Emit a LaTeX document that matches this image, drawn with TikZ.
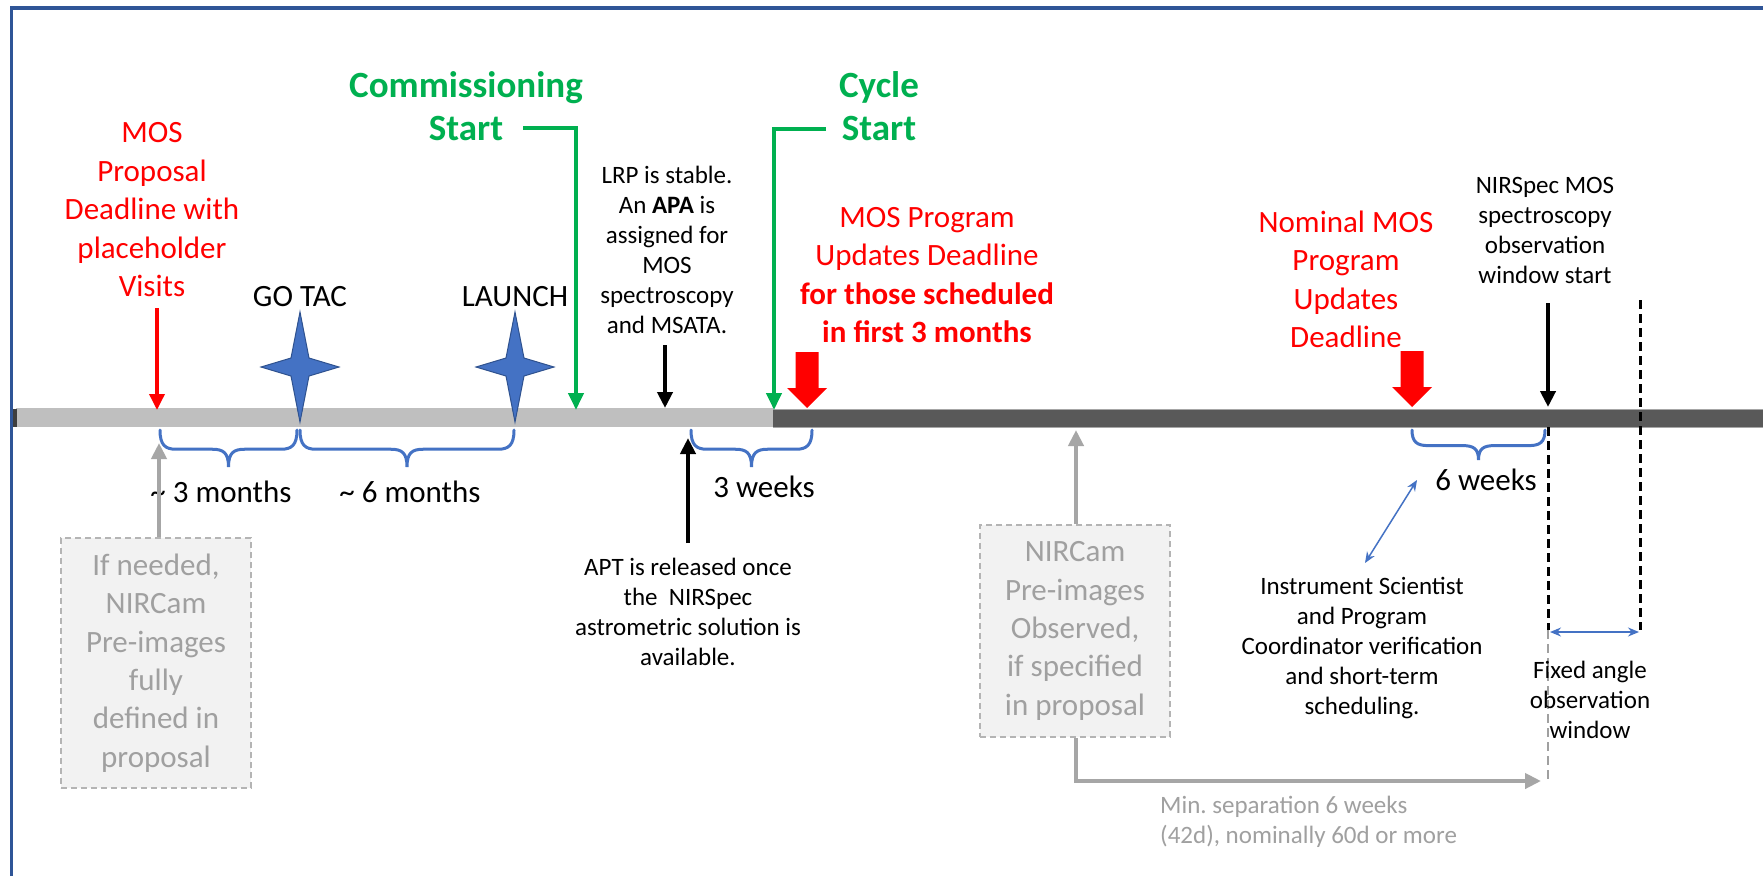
\documentclass[tikz,border=0pt]{standalone}
\usepackage{fontspec}
\setmainfont{Carlito}
\usetikzlibrary{arrows.meta}

\definecolor{frameblue}{HTML}{2F5597}
\definecolor{mred}{HTML}{FF0000}
\definecolor{mgreen}{HTML}{00B050}
\definecolor{mblue}{HTML}{4472C4}
\definecolor{starline}{HTML}{2F528F}
\definecolor{barlight}{HTML}{BFBFBF}
\definecolor{bardark}{HTML}{595959}
\definecolor{barrim}{HTML}{A6A6A6}
\definecolor{txtgray}{HTML}{A0A0A0}
\definecolor{boxfill}{HTML}{F2F2F2}
\definecolor{boxline}{HTML}{B4B4B4}

% curly brace hanging below the time line: #1,#2 = ends, #3 = top, #4 = depth
\newcommand\tlbrace[4]{%
  \draw[bracestyle] (#1,#3) .. controls (#1,#3+0.4*#4) and (#1+5,#3+0.52*#4) .. (#1+16,#3+0.52*#4)
    -- ({(#1+#2)/2-16},#3+0.52*#4) .. controls ({(#1+#2)/2-5},#3+0.52*#4) and ({(#1+#2)/2},#3+0.62*#4) .. ({(#1+#2)/2},#3+#4)
    .. controls ({(#1+#2)/2},#3+0.62*#4) and ({(#1+#2)/2+5},#3+0.52*#4) .. ({(#1+#2)/2+16},#3+0.52*#4)
    -- (#2-16,#3+0.52*#4) .. controls (#2-5,#3+0.52*#4) and (#2,#3+0.4*#4) .. (#2,#3);}

% four-pointed milestone star centred at (#1,#2)
\newcommand\fourstar[2]{%
  \filldraw[starstyle] (#1,#2-55) -- (#1+9,#2-9) -- (#1+39,#2) -- (#1+9,#2+9)
    -- (#1,#2+55) -- (#1-9,#2+9) -- (#1-39,#2) -- (#1-9,#2-9) -- cycle;}

% thick block arrow pointing down, tip at (#1,#2)
\newcommand\blockarrow[2]{%
  \fill[mred] (#1-11.5,#2-56) -- (#1+11.5,#2-56) -- (#1+11.5,#2-20) -- (#1+20,#2-20)
    -- (#1,#2) -- (#1-20,#2-20) -- (#1-11.5,#2-20) -- cycle;}

\tikzset{
  bracestyle/.style={draw=mblue, line width=3pt, line cap=round},
  starstyle/.style={fill=mblue, draw=starline, line width=1pt, line join=miter},
  redtxt/.style={text=mred, font=\fontsize{31}{38.5}\selectfont, align=center, inner sep=0pt},
  greentxt/.style={text=mgreen, font=\fontsize{37}{43}\selectfont\bfseries, align=center, inner sep=0pt},
  bigtxt/.style={font=\fontsize{31}{38}\selectfont, align=center, inner sep=0pt},
  notetxt/.style={font=\fontsize{25}{30}\selectfont, align=center, inner sep=0pt},
  graybox/.style={draw=boxline, dash pattern=on 6pt off 4pt, line width=1.5pt, fill=boxfill,
    text=txtgray, font=\fontsize{31}{38.4}\selectfont, align=center, inner sep=0pt},
  redarrow/.style={draw=mred, line width=3.5pt, -{Triangle[length=16pt,width=15pt]}},
  greenarrow/.style={draw=mgreen, line width=4pt, -{Triangle[length=17pt,width=15pt]}},
  blackarrow/.style={draw=black, line width=4pt, -{Triangle[length=16pt,width=15pt]}},
  grayarrow/.style={draw=barrim, line width=4pt, -{Triangle[length=16pt,width=15pt]}},
  bluearrow/.style={draw=mblue, line width=1.5pt, {Stealth[length=11pt,width=9pt]}-{Stealth[length=11pt,width=9pt]}},
  blackdash/.style={draw=black, line width=3pt, dash pattern=on 9pt off 5pt},
  graydash/.style={draw=txtgray, line width=2pt, dash pattern=on 9pt off 5pt}
}

\begin{document}
\begin{tikzpicture}[x=1pt,y=-1pt]
\useasboundingbox (0,0) rectangle (1763,876);
\fill[white] (0,0) rectangle (1763,876);

% frame
\draw[frameblue, line width=3.5pt] (11.5,876) -- (11.5,8) -- (1763,8);

% time line
\fill[barlight] (16,408) rectangle (773,427);
\fill[bardark] (773,409) rectangle (1763,427);
\draw[barrim, line width=1pt] (773,409) -- (1763,409) (773,427) -- (1763,427);
\fill[bardark!70!black] (13,409) rectangle (17,427);

% points on the time line
\coordinate (tMOS) at (157,410);
\coordinate (tComm) at (576,410);
\coordinate (tLRP) at (665,408);
\coordinate (tCycle) at (774,410);
\coordinate (tNIRS) at (1548,407);
\coordinate (bPre) at (159,443);
\coordinate (bAPT) at (688,438);
\coordinate (bPre2) at (1076,430);

% labels above the line
\node[redtxt] (mosTxt) at (152,210) {MOS\\Proposal\\Deadline with\\placeholder\\Visits};
\node[bigtxt] (goTxt) at (300,297) {GO TAC};
\node[bigtxt] (launchTxt) at (515,297) {LAUNCH};
\node[greentxt] (commTxt) at (466,106.5) {Commissioning\\Start};
\node[greentxt] (cycleTxt) at (879,106.5) {Cycle\\Start};
\node[notetxt] (lrpTxt) at (667,250) {LRP is stable.\\An \textbf{APA} is\\assigned for\\MOS\\spectroscopy\\and MSATA.};
\node[redtxt] (updTxt) at (927,275) {MOS Program\\Updates Deadline\\\textbf{for those scheduled}\\\textbf{in first 3 months}};
\node[redtxt] (nomTxt) at (1346,279.5) {Nominal MOS\\Program\\Updates\\Deadline};
\node[notetxt] (nirsTxt) at (1545,230) {NIRSpec MOS\\spectroscopy\\observation\\window start};

% arrows onto the line
\coordinate (mosA) at (157,308);
\draw[redarrow] (mosA) -- (tMOS);
\coordinate (commA) at (523,128);
\draw[greenarrow] (commA) -| (tComm);
\coordinate (cycleA) at (826,129);
\draw[greenarrow] (cycleA) -| (tCycle);
\coordinate (lrpA) at (665,345);
\draw[blackarrow] (lrpA) -- (tLRP);
\coordinate (nirsA) at (1548,303);
\draw[blackarrow] (nirsA) -- (tNIRS);

% milestones
\fourstar{300}{367}
\fourstar{515}{367}
\blockarrow{807}{408}
\blockarrow{1412}{407}

% observation window limits
\coordinate (winA) at (1548,427);
\coordinate (winB) at (1548,630);
\coordinate (winC) at (1548,780);
\coordinate (winD) at (1640,300);
\coordinate (winE) at (1640,630);
\draw[blackdash] (winA) -- (winB);
\draw[graydash] (winB) -- (winC);
\draw[blackdash] (winD) -- (winE);
\coordinate (winL) at (1550,632);
\coordinate (winR) at (1639,632);
\draw[bluearrow] (winL) -- (winR);

% intervals
\tlbrace{160}{297}{430}{37}
\tlbrace{300}{514}{430}{37}
\tlbrace{691}{812}{430}{37}
\tlbrace{1412}{1545}{430}{30}
\node[bigtxt] (m3) at (221,492) {\textasciitilde\ 3 months};
\node[bigtxt] (m6) at (410,492) {\textasciitilde\ 6 months};
\node[bigtxt] (w3) at (764,487) {3 weeks};
\node[bigtxt] (w6) at (1486,480) {6 weeks};

% below the line
\node[graybox, minimum width=190pt, minimum height=250pt] (pre1) at (156,663)
  {If needed,\\NIRCam\\Pre-images\\fully\\defined in\\proposal};
\draw[grayarrow] (pre1.north -| bPre) -- (bPre);

\node[notetxt] (aptTxt) at (688,612) {APT is released once\\the\ \ NIRSpec\\astrometric solution is\\available.};
\coordinate (aptA) at (688,543);
\draw[blackarrow] (aptA) -- (bAPT);

\node[graybox, minimum width=190pt, minimum height=212pt] (pre2) at (1075,631)
  {NIRCam\\Pre-images\\Observed,\\if specified\\in proposal};
\draw[grayarrow] (pre2.north -| bPre2) -- (bPre2);
\coordinate (sepEnd) at (1541,781);
\draw[grayarrow] (pre2.south -| bPre2) |- (sepEnd);
\node[notetxt, text=txtgray, align=left, anchor=west] (sepTxt) at (1160,822)
  {Min.\ separation 6 weeks\\(42d), nominally 60d or more};

\node[notetxt] (isTxt) at (1362,648) {Instrument Scientist\\and Program\\Coordinator verification\\and short-term\\scheduling.};
\coordinate (isA) at (1365,563);
\coordinate (isB) at (1417,480);
\draw[bluearrow] (isA) -- (isB);

\node[notetxt] (fixTxt) at (1590,700) {Fixed angle\\observation\\window};
\end{tikzpicture}
\end{document}
